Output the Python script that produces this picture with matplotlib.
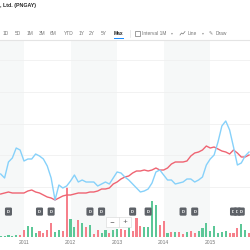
import numpy as np
import matplotlib
matplotlib.use("Agg")
import matplotlib.pyplot as plt
from matplotlib.patches import Rectangle
from matplotlib.lines import Line2D
from matplotlib.transforms import blended_transform_factory

plt.rcParams['font.family'] = ['Liberation Sans', 'DejaVu Sans']

# monthly data, Jul 2010 .. Nov 2015
months = np.arange(65)
year_ticks = [6, 18, 30, 42, 54]
year_labels = ['2011', '2012', '2013', '2014', '2015']

# PNGAY (blue) and comparison (red) closes
pngay = [6.3, 5.9, 7.5, 7.9, 8.9, 8.7, 7.6, 7.8, 7.8, 8.3, 8.1, 7.8, 7.1, 5.9, 3.7, 5.2,
         4.9, 5.1, 5.6, 6.2, 5.5, 5.7, 5.5, 5.5, 5.5, 5.1, 5.3, 5.5, 5.3, 5.9, 6.5, 6.4,
         6.0, 5.7, 5.3, 4.9, 4.5, 4.6, 4.8, 5.4, 6.5, 6.7, 6.2, 5.7, 5.7, 5.3, 5.4, 5.5,
         5.8, 5.8, 5.5, 5.7, 6.0, 7.2, 7.8, 8.2, 9.5, 11.1, 11.6, 10.7, 9.0, 7.2, 7.4, 8.1, 8.5]
compare = [4.3, 4.4, 4.5, 4.4, 4.4, 4.4, 4.4, 4.6, 4.7, 4.5, 4.4, 4.2, 4.0, 3.9, 3.7, 3.9,
           4.1, 4.2, 4.2, 4.3, 4.4, 4.4, 4.4, 4.5, 4.5, 4.6, 4.8, 4.8, 4.9, 5.3, 5.5, 5.8,
           6.0, 6.1, 6.4, 6.6, 6.6, 6.7, 6.6, 6.7, 6.9, 6.7, 6.7, 6.9, 7.3, 7.5, 7.5, 7.5,
           7.6, 8.1, 8.4, 8.5, 8.7, 9.1, 8.9, 9.0, 8.8, 8.6, 8.5, 8.3, 8.7, 8.4, 8.0, 8.0, 8.2]

volume = [1.0, 1.0, 1.7, 1.0, 1.7, 2.3, 7.3, 10.7, 10.0, 4.0, 5.7, 4.3, 6.7, 14.0, 5.0, 6.7,
          5.7, 50.0, 18.3, 10.0, 17.3, 14.0, 10.0, 11.7, 3.3, 6.7, 4.0, 6.7, 4.0, 6.7, 8.0, 8.0,
          6.7, 11.3, 5.7, 19.0, 10.7, 9.7, 9.7, 36.3, 32.3, 12.0, 16.0, 4.3, 5.0, 5.0, 5.0, 3.3,
          5.0, 5.7, 4.3, 5.7, 9.0, 14.0, 5.7, 11.0, 4.3, 5.0, 5.7, 4.3, 4.3, 9.0, 13.3, 7.3, 4.0]
direction = list('gggggrrgggrrrrggrrggrgrgrrggrggrrgrrrggggrrgrgrrgrrggggggggrrrggr')

dividends = [2, 10, 13, 23, 26, 34, 38, 47, 50, 60, 61, 62]

BLUE = '#86d1fa'
RED = '#ef6472'
GREEN_BAR = '#5cc797'
RED_BAR = '#f6808b'
BAND = '#f6f8f8'

fig = plt.figure(figsize=(2.5, 2.5), dpi=100)
ax = fig.add_axes([0, 13 / 250, 1, 197 / 250])

# year bands
ax.axvspan(-1, year_ticks[0], color=BAND, lw=0, zorder=0)
ax.axvspan(year_ticks[1], year_ticks[2], color=BAND, lw=0, zorder=0)
ax.axvspan(year_ticks[3], year_ticks[4], color=BAND, lw=0, zorder=0)

# volume bars
cols = [GREEN_BAR if d == 'g' else RED_BAR for d in direction]
ax.bar(months, volume, width=0.55, color=cols, zorder=2)
ax.set_ylim(0, 197)
ax.set_xlim(-0.18, 64.25)

for sp in ['left', 'right', 'bottom']:
    ax.spines[sp].set_visible(False)
ax.spines['top'].set_color('#e4e4e4')
ax.spines['top'].set_linewidth(0.8)
ax.set_yticks([])
ax.set_xticks(year_ticks)
ax.set_xticklabels(year_labels)
ax.tick_params(axis='x', length=0, pad=2.2, labelsize=3.6, labelcolor='#777777')

# dividend markers
tr = blended_transform_factory(ax.transData, ax.transAxes)
for d in dividends:
    ax.text(d, 0.129, 'D', transform=tr, fontsize=3.0, color='white', ha='center', va='center',
            weight='bold', zorder=5,
            bbox=dict(boxstyle='round,pad=0.5,rounding_size=0.3', fc='#5e6268', ec='none'))

# price lines
ax2 = ax.twinx()
ax2.plot(months, compare, color=RED, lw=1.0, zorder=3)
ax2.plot(months, pngay, color=BLUE, lw=1.0, zorder=4)
ax2.set_ylim(0, 19.7)
ax2.set_xlim(-0.18, 64.25)
ax2.set_yticks([5.0 + 3.17 * k for k in range(5)])
ax2.set_yticklabels([])
ax2.tick_params(axis='y', length=0)
ax2.grid(axis='y', color='#f0f0f0', lw=0.6)
for sp in ax2.spines.values():
    sp.set_visible(False)


def fx(px):
    return px / 250


def fy(py):
    return 1 - py / 250


# header
fig.text(fx(0), fy(5), ', Ltd. (PNGAY)', fontsize=3.8, weight='bold', va='center', color='#222222')

ranges = [('1D', 6), ('5D', 18), ('1M', 30), ('3M', 42), ('6M', 53), ('YTD', 69),
          ('1Y', 82), ('2Y', 92), ('5Y', 104)]
for lab, px in ranges:
    fig.text(fx(px), fy(33.5), lab, fontsize=3.5, color='#777777', ha='center', va='center')
fig.text(fx(118), fy(33.5), 'Max', fontsize=3.5, color='#222222', weight='bold', ha='center', va='center')
fig.add_artist(Rectangle((fx(114), fy(39.3)), fx(9.5), 1.4 / 250, transform=fig.transFigure,
                         fc='#1a8cff', ec='none'))
fig.add_artist(Line2D([fx(129.5), fx(129.5)], [fy(30), fy(37)], color='#e0e0e0', lw=0.5))

# interval control
fig.add_artist(Rectangle((fx(135), fy(35.5)), fx(4.5), 4.5 / 250, transform=fig.transFigure,
                         fc='none', ec='#777777', lw=0.5))
fig.text(fx(142), fy(33.5), 'Interval 1M', fontsize=3.5, color='#777777', va='center')
fig.text(fx(170.5), fy(33.5), '\u25be', fontsize=2.8, color='#999999', va='center', family='DejaVu Sans')
fig.add_artist(Line2D([fx(180), fx(181.5), fx(183), fx(185)], [fy(35), fy(33), fy(34), fy(31.5)],
                      color='#777777', lw=0.5))
fig.text(fx(188), fy(33.5), 'Line', fontsize=3.5, color='#777777', va='center')
fig.text(fx(201.5), fy(33.5), '\u25be', fontsize=2.8, color='#999999', va='center', family='DejaVu Sans')
fig.text(fx(209), fy(33.5), '\u270e', fontsize=3.6, color='#777777', va='center', family='DejaVu Sans')
fig.text(fx(215.5), fy(33.5), 'Draw', fontsize=3.5, color='#777777', va='center')

# zoom control
fig.add_artist(Rectangle((fx(106), fy(226.5)), fx(25), 9.5 / 250, transform=fig.transFigure,
                         fc='white', ec='#dddddd', lw=0.5, zorder=10))
fig.add_artist(Line2D([fx(118.5), fx(118.5)], [fy(217), fy(226.5)], color='#dddddd', lw=0.5, zorder=11))
fig.text(fx(112.3), fy(221.8), '\u2212', fontsize=4.2, color='#555555', ha='center', va='center',
         family='DejaVu Sans', zorder=12)
fig.text(fx(124.8), fy(221.8), '+', fontsize=4.2, color='#555555', ha='center', va='center',
         family='DejaVu Sans', zorder=12)

fig.savefig('out.png', dpi=100)
